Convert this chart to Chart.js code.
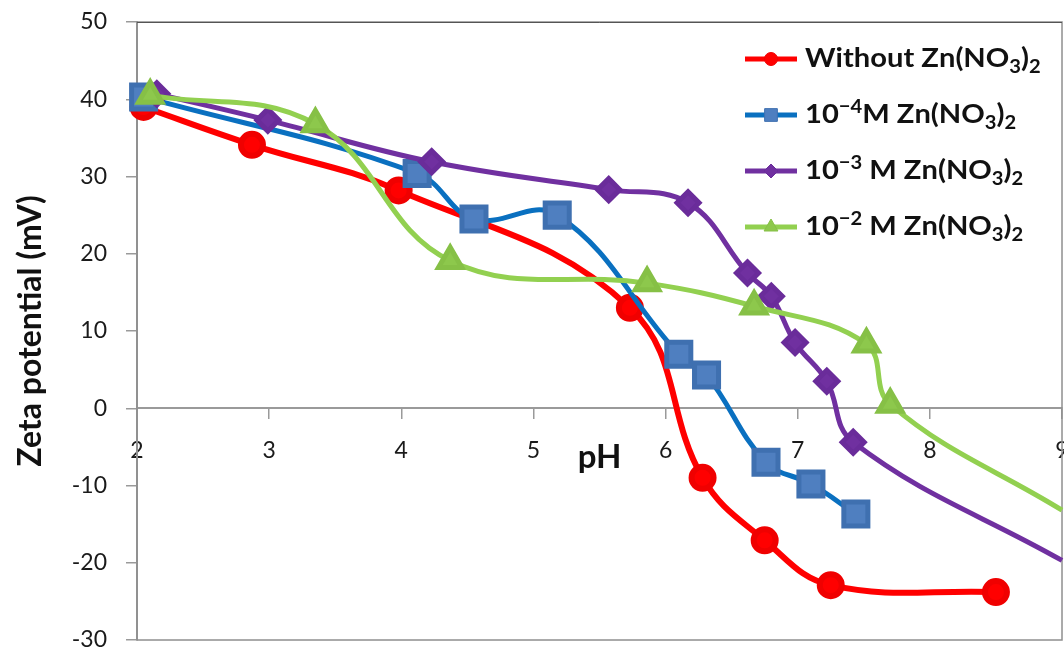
<!DOCTYPE html>
<html>
<head>
<meta charset="utf-8">
<script src="https://cdn.jsdelivr.net/npm/chart.js@4.4.0/dist/chart.umd.min.js"></script>
<style>
  body { margin: 0; background: #fff; }
  #wrap { width: 1064px; height: 653px; }
</style>
</head>
<body>
<div id="wrap"><canvas id="zetaChart" width="1064" height="653"></canvas></div>
<script>
// pH / zeta potential (mV) readings for each zinc nitrate level
var phWithout = [2.05, 2.87, 3.98, 5.73, 6.28, 6.75, 7.25, 8.5];
var zetaWithout = [39.0, 34.1, 28.2, 13.0, -9.0, -17.1, -22.9, -23.8];

var ph1e4 = [2.05, 4.12, 4.55, 5.18, 6.1, 6.31, 6.76, 7.1, 7.44];
var zeta1e4 = [40.3, 30.4, 24.5, 25.0, 7.0, 4.3, -7.0, -9.8, -13.7];

// last entry is where the trend line leaves the plot at pH 9 (no marker)
var ph1e3 = [2.15, 2.99, 4.23, 5.57, 6.17, 6.62, 6.8, 6.98, 7.22, 7.42, 9.0];
var zeta1e3 = [40.7, 37.3, 31.9, 28.3, 26.6, 17.5, 14.5, 8.5, 3.5, -4.4, -19.7];

var ph1e2 = [2.1, 3.35, 4.37, 5.86, 6.67, 7.52, 7.7, 9.0];
var zeta1e2 = [40.5, 36.8, 19.1, 16.2, 13.2, 8.3, 0.5, -13.2];

var seriesLabels = [
  'Without Zn(NO₃)₂',
  '10⁻⁴M Zn(NO₃)₂',
  '10⁻³ M Zn(NO₃)₂',
  '10⁻² M Zn(NO₃)₂'
];

var xTicks = { min: 2, max: 9, step: 1 };
var yTicks = { min: -30, max: 50, step: 10 };

function toPoints(xs, ys) {
  var pts = [];
  for (var i = 0; i < xs.length; i++) pts.push({ x: xs[i], y: ys[i] });
  return pts;
}

// marker radius for every point, optionally hiding the trailing edge point
function markerSizes(n, r, hideLast) {
  var out = [];
  for (var i = 0; i < n; i++) out.push(hideLast && i === n - 1 ? 0 : r);
  return out;
}

var SUB = { '₀': '0', '₁': '1', '₂': '2', '₃': '3', '₄': '4', '₅': '5', '₆': '6', '₇': '7', '₈': '8', '₉': '9' };
var SUP = { '⁰': '0', '¹': '1', '²': '2', '³': '3', '⁴': '4', '⁵': '5', '⁶': '6', '⁷': '7', '⁸': '8', '⁹': '9', '⁻': '−' };

// writes a label, turning unicode sub/superscripts into small shifted glyphs
function drawRichText(ctx, text, x, y) {
  var big = 'bold 26px Lato', small = 'bold 18px Lato';
  ctx.save();
  ctx.translate(x, y);
  ctx.scale(1.12, 1);   // the legend lettering is a little wide
  ctx.textBaseline = 'middle';
  ctx.textAlign = 'left';
  var cx = 0;
  for (var i = 0; i < text.length; i++) {
    var ch = text[i], dy = 0;
    if (SUB[ch]) { ctx.font = small; dy = 8; ch = SUB[ch]; }
    else if (SUP[ch]) { ctx.font = small; dy = -8; ch = SUP[ch]; }
    else ctx.font = big;
    ctx.fillText(ch, cx, dy);
    cx += ctx.measureText(ch).width;
  }
  ctx.restore();
}

var legendRows = [59, 115, 171, 227];
var legendMarkers = [6.5, 9, 7, 8];

var zetaLegend = {
  id: 'zetaLegend',
  afterDraw: function(chart) {
    var ctx = chart.ctx;
    ctx.save();
    chart.data.datasets.forEach(function(ds, i) {
      var y = legendRows[i];
      ctx.strokeStyle = ds.borderColor;
      ctx.lineWidth = 5;
      ctx.beginPath();
      ctx.moveTo(745, y);
      ctx.lineTo(797, y);
      ctx.stroke();
      ctx.fillStyle = ds.pointBackgroundColor;
      ctx.strokeStyle = ds.pointBorderColor;
      ctx.lineWidth = 1;
      Chart.helpers.drawPoint(ctx, { pointStyle: ds.pointStyle, radius: legendMarkers[i], borderWidth: 1, rotation: 0 }, 771, y);
      ctx.fillStyle = '#111';
      drawRichText(ctx, ds.label, 805, y);
    });
    ctx.restore();
  }
};

var plotBox = {
  id: 'plotBox',
  beforeDatasetsDraw: function(chart) {
    var a = chart.chartArea, ctx = chart.ctx;
    ctx.save();
    ctx.strokeStyle = '#8f8f8f';
    ctx.lineWidth = 1.5;
    ctx.strokeRect(a.left, a.top, a.right - a.left, a.bottom - a.top);
    ctx.strokeStyle = '#555';
    ctx.lineWidth = 1;
    ctx.beginPath();
    ctx.moveTo(a.left, a.top + 0.5);
    ctx.lineTo(a.right, a.top + 0.5);
    ctx.stroke();
    ctx.restore();
  }
};

Chart.defaults.font.family = 'Lato';
Chart.defaults.color = '#1a1a1a';

var ctx = document.getElementById('zetaChart').getContext('2d');
var chart = new Chart(ctx, {
  type: 'line',
  data: {
    datasets: [{
      label: seriesLabels[0],
      data: toPoints(phWithout, zetaWithout),
      borderColor: '#ff0000',
      borderWidth: 6,
      pointStyle: 'circle',
      pointRadius: markerSizes(phWithout.length, 11, false),
      pointBackgroundColor: '#ff0000',
      pointBorderColor: '#f00000',
      order: 4
    }, {
      label: seriesLabels[1],
      data: toPoints(ph1e4, zeta1e4),
      borderColor: '#0a70c0',
      borderWidth: 5,
      pointStyle: 'rect',
      pointRadius: markerSizes(ph1e4.length, 17, false),
      pointBackgroundColor: '#4f7fc0',
      pointBorderColor: '#3f70b0',
      order: 3
    }, {
      label: seriesLabels[2],
      data: toPoints(ph1e3, zeta1e3),
      borderColor: '#7030a0',
      borderWidth: 5,
      pointStyle: 'rectRot',
      pointRadius: markerSizes(ph1e3.length, 11, true),
      pointBackgroundColor: '#7030a0',
      pointBorderColor: '#6a2c9a',
      order: 2
    }, {
      label: seriesLabels[3],
      data: toPoints(ph1e2, zeta1e2),
      borderColor: '#92d050',
      borderWidth: 5,
      pointStyle: 'triangle',
      pointRadius: markerSizes(ph1e2.length, 13.5, true),
      pointBackgroundColor: '#8dc84c',
      pointBorderColor: '#86c046',
      order: 1
    }]
  },
  options: {
    responsive: false,
    animation: false,
    layout: { autoPadding: false, padding: { left: 0, top: 22, right: 2, bottom: 13 } },
    elements: {
      line: { tension: 0.4, fill: false },
      point: { borderWidth: 1, hoverRadius: 0 }
    },
    datasets: { line: { clip: false } },
    plugins: {
      legend: { display: false },
      tooltip: { enabled: false }
    },
    scales: {
      x: {
        type: 'linear',
        position: { y: 0 },
        min: xTicks.min,
        max: xTicks.max,
        ticks: { stepSize: xTicks.step, padding: 19, font: { size: 23 } },
        grid: { drawOnChartArea: false, tickLength: 10, color: '#9a9a9a', lineWidth: 1.5 },
        border: { color: '#9a9a9a', width: 2 },
        title: {
          display: true,
          text: 'pH',
          color: '#111',
          font: { size: 33, weight: 'bold' },
          padding: { top: -46, bottom: 0 }
        },
        afterFit: function(scale) {
          scale.paddingLeft = 0;
          scale.paddingRight = 0;
        }
      },
      y: {
        min: yTicks.min,
        max: yTicks.max,
        ticks: { stepSize: yTicks.step, padding: 19, font: { size: 23 } },
        grid: { drawOnChartArea: false, tickLength: 11, color: '#9a9a9a', lineWidth: 1.5 },
        border: { color: '#9a9a9a', width: 2 },
        title: {
          display: true,
          text: 'Zeta potential (mV)',
          color: '#111',
          font: { size: 32, weight: 'bold' },
          padding: { top: 11, bottom: 0 }
        },
        afterFit: function(scale) {
          scale.width = 137;
          scale.paddingTop = 0;
          scale.paddingBottom = 0;
        }
      }
    }
  },
  plugins: [plotBox, zetaLegend]
});
</script>
</body>
</html>
